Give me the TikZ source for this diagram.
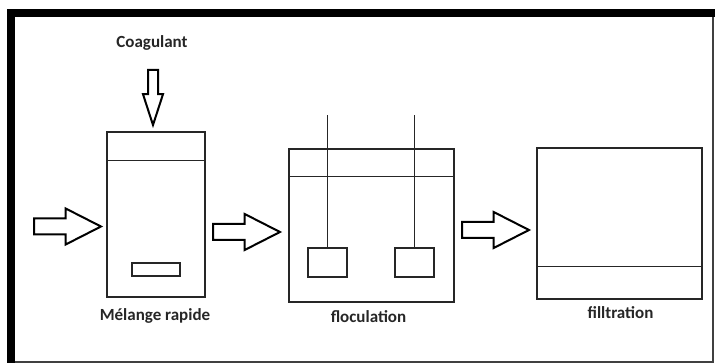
\documentclass[tikz,border=0pt]{standalone}
\usepackage{fontspec}
\setmainfont{Carlito}
\usetikzlibrary{calc,shapes.arrows}

\begin{document}
\begin{tikzpicture}[x=1pt,y=-1pt,
  tank/.style={draw=black!85,line width=1.3pt,inner sep=0pt},
  flowarrow/.style={shape=single arrow,draw,line width=2pt,inner xsep=0pt,inner ysep=7pt,anchor=tail,
    minimum height=67pt,single arrow head extend=10pt,single arrow tip angle=54},
  lbl/.style={font=\fontsize{17}{20}\selectfont\bfseries,text=black!85}]
\useasboundingbox (0,0) rectangle (715,363);
% frame
\draw[black!75,line width=1.2pt] (11,362) -- (713,362) -- (713,13);
\draw[line width=8pt] (11,363) -- (11,13) -- (715,13);
% tanks
\node[tank,minimum width=98pt,minimum height=165pt] (mix) at (156,214.5) {};
\node[tank,minimum width=165pt,minimum height=153pt] (floc) at (371.5,225.5) {};
\node[tank,minimum width=165pt,minimum height=151pt] (filt) at (619.5,223.5) {};
\draw[black!85,line width=1.3pt] ($(mix.north west)+(0,29)$) -- ($(mix.north east)+(0,29)$);
\draw[black!85,line width=1.3pt] ($(floc.north west)+(0,28)$) -- ($(floc.north east)+(0,28)$);
\draw[black!85,line width=1.3pt] ($(filt.south west)+(0,-33)$) -- ($(filt.south east)+(0,-33)$);
% stirrers
\node[tank,minimum width=48pt,minimum height=13pt] (rotor) at (156,269.5) {};
\node[tank,minimum width=39pt,minimum height=29pt] (pad1) at (327.5,262.5) {};
\node[tank,minimum width=39pt,minimum height=29pt] (pad2) at (414.5,262.5) {};
\draw[black!85,line width=1.3pt] (pad1.north) -- (pad1.north |- 0,115);
\draw[black!85,line width=1.3pt] (pad2.north) -- (pad2.north |- 0,115);
% flow arrows
\node[flowarrow] (in) at (33,226.5) {};
\node[flowarrow] (a12) at (212,232) {};
\node[flowarrow] (a23) at (461,230) {};
\node[flowarrow,rotate=-90,minimum height=55pt,inner ysep=4pt,
  single arrow head extend=5pt,single arrow tip angle=36] (dose) at (153,69) {};
% labels
\node[lbl] (coag) at (152,43) {Coagulant};
\node[lbl] (lmix) at (155,316) {Mélange rapide};
\node[lbl] (lfloc) at (368.5,317) {floculation};
\node[lbl] (lfilt) at (620.5,313) {filltration};
\end{tikzpicture}
\end{document}
